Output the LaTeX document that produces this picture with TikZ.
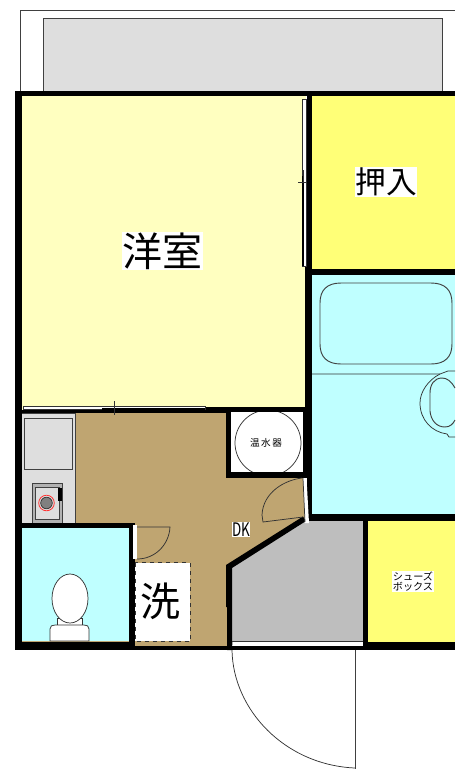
\documentclass[tikz,border=0pt]{standalone}
\usepackage{fontspec}
\setmainfont{Noto Sans CJK JP}
\definecolor{roomy}{HTML}{FFFFC0}
\definecolor{closet}{HTML}{FFFF77}
\definecolor{wet}{HTML}{BFFFFF}
\definecolor{dk}{HTML}{BFA571}
\definecolor{entry}{HTML}{BEBEBE}
\definecolor{lite}{HTML}{DEDEDE}
\tikzset{
 wallfill/.style={fill=black},
 thin/.style={line width=0.7pt,draw=black!75},
 hair/.style={line width=0.55pt,draw=black!80},
 win/.style={fill=white,draw=black!80,line width=0.7pt},
 lab/.style={fill=white,inner sep=1pt,text=black},
}
\begin{document}
\begin{tikzpicture}[x=0.75pt,y=-0.75pt]
\useasboundingbox (0,0) rectangle (455,769);
% balcony
\draw[thin] (20,92) -- (20,10) -- (455,10);
\fill[lite] (43,18) rectangle (442,92);
\draw[thin] (43,92) -- (43,18) -- (442,18) -- (442,92);
% room fills
\fill[roomy] (20,94) rectangle (306,410);
\fill[closet] (310,94) rectangle (455,272);
\fill[wet] (310,272) rectangle (455,516);
\fill[dk] (20,410) -- (305,410) -- (305,518) -- (228,566) -- (228,648) -- (20,648) -- cycle;
\fill[entry] (230,566) -- (306,518) -- (364,518) -- (364,645) -- (230,645) -- cycle;
\fill[closet] (366,518) rectangle (455,644);
% kitchen
\fill[lite] (20,413) rectangle (75,525);
\draw[thin] (22,413) -- (75,413) -- (75,523);
\draw[thin,fill=lite] (24,418) rectangle (72,469);
\draw[thin,fill=black!30] (32,483) rectangle (62,523);
\draw[thin,fill=lite] (35,487) rectangle (59,519);
\fill[black] (58,488) rectangle (62,501);
\draw[hair,fill=black!50] (46.5,503) circle (5.8);
\draw[red!80,line width=0.6pt] (46.5,503) circle (7.8);
% water heater cupboard
\fill[white] (229,411) rectangle (304,475);
\draw[hair,fill=white] (268,443) circle (33);
\node[inner sep=0pt,font=\fontsize{7.2pt}{8pt}\selectfont] (heater) at (266,442.5) {温\,水\,器};
% bath
\draw[thin] (341,283) .. controls (327,283) and (320,290) .. (320,303)
 -- (320,344) .. controls (320,357) and (327,364) .. (341,364)
 -- (431,364) .. controls (445,364) and (452,357) .. (452,344)
 -- (452,303) .. controls (452,290) and (445,283) .. (431,283) -- cycle;
\draw[hair] (310,374) -- (440,374) -- (448,371) -- (455,371);
\draw[hair] (440,374) .. controls (428,380) and (420,392) .. (420,403)
 .. controls (420,420) and (432,432) .. (447,434) -- (449,437) -- (455,437);
\draw[thin] (455,388) .. controls (451,381) and (447,378) .. (442,378)
 .. controls (434,378) and (430,385) .. (430,393)
 -- (430,411) .. controls (431,421) and (437,427) .. (445,427) .. controls (450,427) and (453,424) .. (455,420);
% walls
\fill[wallfill] (15,91) rectangle (455,96);
\fill[wallfill] (15,91) rectangle (21.5,650);
\fill[wallfill] (15,646) rectangle (455,650);
\fill[wallfill] (15,410) rectangle (102,413);
\fill[wallfill] (102,409) rectangle (205,413);
\fill[wallfill] (205,407) rectangle (228,413);
\fill[wallfill] (307,91) rectangle (312,521);
\fill[wallfill] (305,266) rectangle (312,478);
\fill[wallfill] (305,269) rectangle (455,275);
\fill[wallfill] (226,407) rectangle (312,412);
\fill[wallfill] (226,407) rectangle (231,478);
\fill[wallfill] (226,472) rectangle (312,478);
\fill[wallfill] (303,407) rectangle (312,478);
\fill[wallfill] (305,513.5) rectangle (455,521);
\fill[wallfill] (312,513.5) rectangle (455,517);
\fill[wallfill] (363,517) rectangle (368,650);
\fill[wallfill] (363,641.5) rectangle (455,650);
\fill[wallfill] (303,516.5) -- (226,565) -- (226,607) -- (227,607) -- (227,650) -- (232,650) -- (232,568) -- (306,521) -- cycle;
% WC
\fill[wet] (22,528) rectangle (129,641);
\fill[wallfill] (15,523) rectangle (135,528);
\fill[wallfill] (129,523) rectangle (135,650);
\fill[wallfill] (15,641.5) rectangle (135,650);
% toilet
\draw[hair,fill=white] (57,618) rectangle (82,626);
\draw[hair,fill=white] (70,598.5) ellipse (18 and 24.5);
\draw[hair,fill=white] (50,641) -- (50,629) .. controls (50,626) and (52,625) .. (55,625) -- (84,625) .. controls (87,625) and (89,626) .. (89,629) -- (89,641) -- cycle;
% wash area
\draw[dashed,line width=0.7pt,fill=white,draw=black!80] (135,562.5) rectangle (190,641);
\node[inner sep=0pt,font=\fontsize{30pt}{32pt}\selectfont] (wash) at (160.5,601) {洗};
% windows / sliding doors
\draw[win] (302.5,99) rectangle (306.5,266);
\draw[line width=1pt,black] (303,176) -- (303,266);
\draw[hair] (298,182) -- (307,182); \draw[hair] (303,170) -- (303,182);
\draw[win] (23,406) rectangle (205,409.5);
\draw[line width=1pt,black] (102,409) -- (205,409);
\draw[hair] (114,401) -- (114,415);
\fill[white] (133,525) rectangle (137,559);
% WC door
\draw[hair] (137,527) -- (170,527) .. controls (169,545) and (155,559) .. (137,559);
% DK door
\fill[white] (303,478) -- (306.5,478) -- (309,523) -- (305,523) -- cycle;
\draw[hair] (303,478) -- (305,522);
\draw[hair] (302,478) .. controls (285,480) and (263,492) .. (262,515) -- (263,522) -- (303,517);
% entrance door
\fill[white] (233,642) rectangle (363,646);
\draw[hair] (232,641.7) -- (363,641.7);
\draw[hair] (232,650) .. controls (233,710) and (285,765) .. (355,768);
\draw[thin] (355,650) -- (355,769);
% labels
\node[lab,inner sep=0.5pt,font=\fontsize{30pt}{32pt}\selectfont] (yoshitsu) at (162.5,251) {洋室};
\node[lab,inner sep=0.5pt,font=\fontsize{23pt}{25pt}\selectfont] (oshiire) at (386,182) {押入};
\node[lab,inner sep=0.5pt,xscale=0.72,font=\fontsize{14pt}{15pt}\selectfont] (dklab) at (241,529.5) {DK};
\node[lab,inner sep=0.5pt,align=center,font=\fontsize{7.6pt}{7.6pt}\selectfont] (shoes) at (413,581.5) {シューズ\\ボックス};
\end{tikzpicture}
\end{document}
